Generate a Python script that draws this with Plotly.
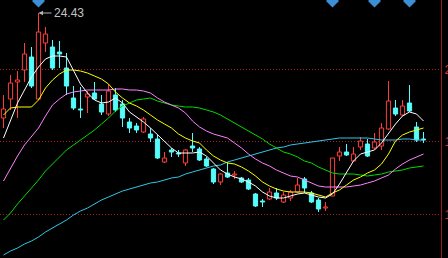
import plotly.graph_objects as go

# ---- data (price units) ----
opens = [19.18, 20.13, 20.98, 21.58, 22.23, 20.13, 22.93, 22.73, 22.48, 21.68,
         20.18, 19.63, 20.23, 20.43, 19.88, 19.38, 20.33, 19.88, 18.98, 18.78,
         18.48, 18.38, 18.13, 16.98, 17.58, 17.43, 16.93, 17.78, 17.63, 17.13,
         16.63, 15.98, 16.43, 16.33, 16.18, 16.08, 15.38, 15.03, 15.13, 15.43,
         14.98, 15.18, 15.48, 16.13, 15.43, 15.08, 14.68, 15.28, 17.28, 17.48,
         17.03, 17.73, 17.88, 17.68, 17.78, 18.63, 19.68, 19.33, 19.93, 18.73, 18.13]
highs = [20.33, 21.33, 21.53, 22.93, 22.73, 24.43, 23.73, 23.08, 23.03, 22.43,
         20.78, 20.73, 20.53, 20.98, 20.33, 20.88, 20.68, 20.08, 19.18, 18.93,
         19.23, 18.68, 18.33, 17.48, 17.68, 17.58, 17.63, 18.43, 17.73, 17.23,
         16.68, 16.43, 16.98, 16.53, 16.23, 16.18, 15.43, 15.13, 15.68, 15.68,
         15.48, 15.58, 16.18, 16.23, 15.53, 15.18, 14.98, 17.18, 17.73, 17.88,
         17.73, 18.23, 18.13, 18.43, 18.93, 21.03, 20.08, 20.08, 20.83, 18.98, 18.48]
lows = [18.68, 19.58, 19.18, 20.98, 20.68, 20.08, 22.48, 21.58, 21.68, 20.33,
        19.58, 19.18, 19.43, 20.08, 19.33, 19.28, 19.48, 18.73, 18.43, 18.43,
        18.43, 17.98, 17.13, 16.93, 17.23, 17.23, 16.78, 17.48, 17.03, 16.73,
        15.88, 15.83, 16.18, 16.13, 15.93, 15.58, 14.73, 14.73, 15.08, 15.08,
        14.93, 15.03, 15.43, 15.43, 14.93, 14.48, 14.53, 15.28, 17.03, 17.28,
        17.03, 17.58, 17.23, 17.63, 17.58, 18.58, 19.28, 19.28, 19.48, 17.98, 17.93]
closes = [19.63, 20.93, 21.08, 22.38, 20.78, 23.48, 23.38, 21.68, 22.38, 20.78,
          19.68, 19.58, 20.38, 20.13, 19.48, 20.53, 19.58, 19.18, 18.68, 18.58,
          19.13, 18.18, 17.18, 17.18, 17.48, 17.38, 17.58, 17.68, 17.08, 16.78,
          15.98, 16.38, 16.23, 16.38, 15.98, 15.63, 14.78, 14.98, 15.48, 15.18,
          15.33, 15.48, 15.83, 15.68, 14.98, 14.63, 14.73, 17.18, 17.48, 17.33,
          17.38, 18.03, 17.28, 17.98, 18.68, 20.03, 19.38, 19.78, 19.53, 18.08, 18.08]

ma5 = [18.18, 19.08, 19.93, 20.58, 21.23, 21.73, 22.13, 22.28, 22.28, 22.23,
       21.58, 20.88, 20.43, 20.08, 19.93, 19.98, 20.18, 19.93, 19.48, 19.23,
       18.98, 18.68, 18.33, 17.98, 17.68, 17.43, 17.43, 17.43, 17.48, 17.28,
       16.93, 16.58, 16.38, 16.23, 16.13, 15.98, 15.78, 15.48, 15.28, 15.18,
       15.18, 15.28, 15.38, 15.43, 15.33, 15.23, 15.18, 15.38, 15.88, 16.48,
       17.03, 17.38, 17.48, 17.58, 17.93, 18.43, 18.88, 19.28, 19.48, 19.38, 19.03]
ma10 = [19.33, 19.68, 19.73, 19.73, 19.73, 20.08, 20.68, 21.08, 21.38, 21.58,
        21.58, 21.53, 21.43, 21.28, 21.13, 20.88, 20.48, 20.18, 19.93, 19.78,
        19.58, 19.33, 19.08, 18.88, 18.68, 18.38, 18.18, 18.03, 17.93, 17.58,
        17.28, 17.08, 16.93, 16.88, 16.73, 16.53, 16.28, 15.98, 15.78, 15.63,
        15.53, 15.48, 15.48, 15.48, 15.43, 15.33, 15.23, 15.43, 15.58, 15.83,
        16.08, 16.23, 16.43, 16.58, 16.88, 17.38, 18.03, 18.33, 18.48, 18.58, 18.68]
ma20 = [16.03, 16.68, 17.28, 17.83, 18.28, 18.68, 19.28, 19.83, 20.13, 20.38,
        20.48, 20.53, 20.58, 20.58, 20.58, 20.58, 20.63, 20.63, 20.58, 20.58,
        20.53, 20.43, 20.18, 19.98, 19.83, 19.68, 19.43, 19.03, 18.73, 18.53,
        18.38, 18.28, 18.18, 17.93, 17.68, 17.38, 17.13, 16.93, 16.78, 16.58,
        16.43, 16.28, 16.23, 16.08, 15.93, 15.78, 15.73, 15.73, 15.73, 15.73,
        15.78, 15.83, 15.93, 16.03, 16.18, 16.33, 16.63, 16.88, 17.08, 17.23, 17.38]
ma30 = [14.08, 14.43, 14.88, 15.28, 15.63, 16.08, 16.53, 16.88, 17.23, 17.58,
        17.83, 18.08, 18.33, 18.58, 18.88, 19.18, 19.53, 19.78, 19.93, 20.08,
        20.13, 20.18, 20.03, 19.93, 19.83, 19.78, 19.73, 19.73, 19.68, 19.58,
        19.48, 19.33, 19.13, 18.93, 18.73, 18.53, 18.33, 18.13, 17.88, 17.68,
        17.48, 17.38, 17.23, 17.03, 16.93, 16.73, 16.58, 16.43, 16.38, 16.38,
        16.38, 16.33, 16.28, 16.33, 16.38, 16.48, 16.53, 16.58, 16.68, 16.73, 16.78]
ma60 = [12.33, 12.53, 12.68, 12.88, 13.03, 13.23, 13.48, 13.68, 13.88, 14.08,
        14.33, 14.53, 14.68, 14.88, 15.08, 15.23, 15.38, 15.53, 15.63, 15.73,
        15.83, 15.93, 15.98, 16.08, 16.18, 16.23, 16.38, 16.48, 16.58, 16.68,
        16.78, 16.83, 16.98, 17.08, 17.18, 17.28, 17.38, 17.48, 17.58, 17.68,
        17.73, 17.83, 17.88, 17.93, 17.98, 18.03, 18.08, 18.13, 18.18, 18.18,
        18.18, 18.18, 18.18, 18.13, 18.08, 18.08, 18.08, 18.13, 18.13, 18.08, 18.08]

event_idx = [5, 47, 53, 58]          # info-mine markers on top
grid_levels = [21.63, 18.03, 14.38]
grid_labels = ["21.63", "18.03", "14.38"]
max_idx, max_val = 5, 24.43

RED = "#ff3c3c"
CYAN = "#54fcfc"

n = len(opens)
xs = list(range(n))
up = [closes[i] >= opens[i] for i in xs]

fig = go.Figure()

# wicks (split so they don't cross hollow bodies)
for color, flag in ((RED, True), (CYAN, False)):
    wx, wy = [], []
    for i in xs:
        if up[i] != flag:
            continue
        top = max(opens[i], closes[i])
        bot = min(opens[i], closes[i])
        wx += [i, i, None, i, i, None]
        wy += [highs[i], top, None, bot, lows[i], None]
    fig.add_trace(go.Scatter(x=wx, y=wy, mode="lines",
                             line=dict(color=color, width=1),
                             hoverinfo="skip"))

# bodies
for color, fill, flag in ((RED, "#000000", True), (CYAN, CYAN, False)):
    bx = [i for i in xs if up[i] == flag]
    base = [min(opens[i], closes[i]) for i in bx]
    h = [max(abs(closes[i] - opens[i]), 0.04) for i in bx]
    fig.add_trace(go.Bar(x=bx, y=h, base=base, width=0.6,
                         marker=dict(color=fill, line=dict(color=color, width=1)),
                         hoverinfo="skip"))

# moving averages
for arr, col in ((ma60, "#30c8ea"), (ma30, "#00dc00"), (ma20, "#ff80ff"),
                 (ma10, "#ffff00"), (ma5, "#ffffff")):
    fig.add_trace(go.Scatter(x=xs[:len(arr)], y=arr, mode="lines",
                             line=dict(color=col, width=1), hoverinfo="skip"))

# event diamonds at top
fig.add_trace(go.Scatter(x=event_idx, y=[25.03] * len(event_idx), mode="markers",
                         marker=dict(symbol="diamond", size=10, color="#3c8fd6"),
                         hoverinfo="skip"))

fig.add_annotation(x=max_idx, y=max_val, text=str(max_val), showarrow=True,
                   ax=13, ay=0, xanchor="left", yanchor="middle",
                   arrowhead=2, arrowsize=0.9, arrowwidth=1, arrowcolor="#b4b4b4",
                   standoff=0, font=dict(family="Liberation Sans", size=12, color="#c4c4c4"))

fig.update_layout(
    width=448, height=258,
    margin=dict(l=0, r=7, t=0, b=0),
    paper_bgcolor="#000000", plot_bgcolor="#000000",
    showlegend=False, hovermode=False, barmode="overlay",
    xaxis=dict(range=[-0.5, 62.5], visible=False, fixedrange=True),
    yaxis=dict(range=[12.18, 25.08], side="right", showline=True,
               linecolor="#9a1a1a", linewidth=1, zeroline=False,
               tickvals=grid_levels, ticktext=grid_labels, ticks="",
               tickfont=dict(family="Liberation Sans", size=13, color="#e03232"),
               showgrid=True, gridcolor="#a82020", griddash="1px,2px",
               gridwidth=1, fixedrange=True, automargin=False),
)

fig.write_html("out.html", config={"displayModeBar": False})
